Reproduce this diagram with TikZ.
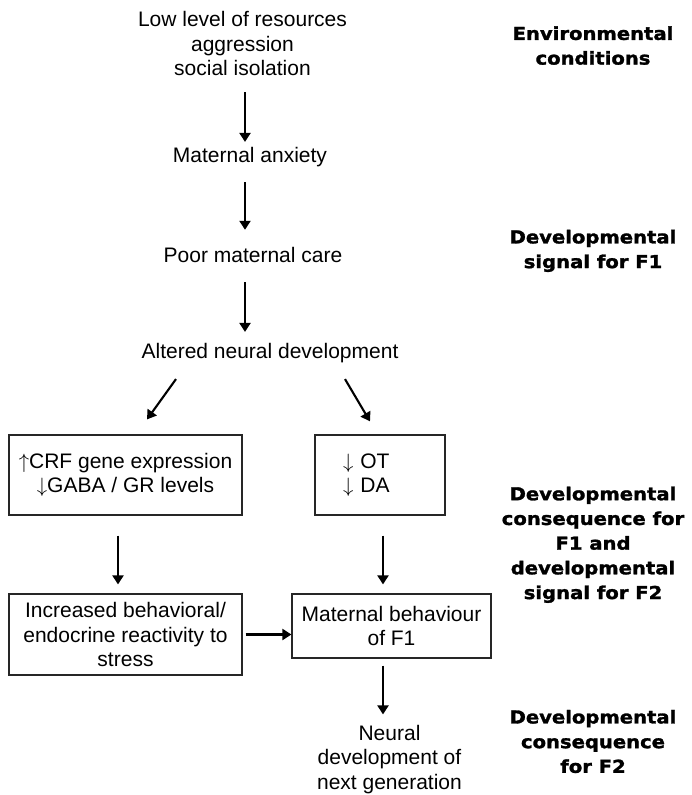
\documentclass[tikz,border=0pt]{standalone}
\usepackage{fontspec}
\setmainfont{Liberation Sans}
\newfontfamily\tagfont{DejaVu Sans Bold}[FakeStretch=1.1, FakeBold=1.6]
\usetikzlibrary{arrows.meta, positioning}
\newcommand{\bodyfont}{\fontsize{21}{24.5}\selectfont}
\newcommand{\tagsize}{\tagfont\fontsize{17.8}{24.7}\selectfont}
\tikzstyle{every node}=[font=\bodyfont, inner sep=0pt]
\tikzstyle{block}=[draw=black!85, line width=1.2pt, rectangle, align=center]
\tikzstyle{tag}=[font=\tagsize, align=center]
\tikzstyle{flow}=[line width=2.1pt, -{Triangle[width=11pt,length=9pt]}]

\begin{document}
\begin{tikzpicture}[x=1pt, y=-1pt]
    \useasboundingbox (0,0) rectangle (691,795);
    % main chain
    \node[align=center] (cond) at (242.5,43.8) {Low level of resources\\aggression\\social isolation};
    \node (anxiety) at (250,157.5) {Maternal anxiety};
    \node (care) at (253,255.3) {Poor maternal care};
    \node (altered) at (270,353.5) {Altered neural development};
    \node[block, minimum width=233pt, minimum height=80pt] (crf) at (125.5,475) {$\uparrow$CRF gene expression\\$\downarrow$GABA / GR levels};
    \node[block, text width=74pt, inner xsep=28pt, align=left, minimum height=80pt] (ot) at (380,475) {$\downarrow$ OT\\$\downarrow$ DA};
    \node[block, minimum width=233pt, minimum height=81pt] (stress) at (125.5,634.5) {Increased behavioral/\\endocrine reactivity to\\stress};
    \node[block, minimum width=199pt, minimum height=64pt] (matb) at (391.5,626) {Maternal behaviour\\of F1};
    \node[align=center] (next) at (389.5,759.5) {Neural\\development of\\next generation};
    % stage labels
    \node[tag] (envtag) at (593,45.6) {Environmental\\conditions};
    \node[tag] (sigtag) at (593,250.9) {Developmental\\signal for F1};
    \node[tag] (constag) at (593,544.8) {Developmental\\consequence for\\F1 and\\developmental\\signal for F2};
    \node[tag] (nexttag) at (593,741.5) {Developmental\\consequence\\for F2};
    % arrows
    \coordinate (axis) at (245,0);
    \coordinate (raxis) at (383,0);
    \coordinate (splitl) at ([xshift=-94pt, yshift=-15.6pt]altered.south);
    \coordinate (splitr) at ([xshift=75pt, yshift=-15.6pt]altered.south);
    \coordinate (endl) at ([xshift=21.5pt, yshift=15pt]crf.north);
    \coordinate (endr) at ([xshift=-10pt, yshift=13pt]ot.north);
    \draw[flow, shorten <=16pt, shorten >=5.6pt] (cond.south -| axis) -- (anxiety.north -| axis);
    \draw[flow, shorten <=14.6pt, shorten >=17.6pt] (anxiety.south -| axis) -- (care.north -| axis);
    \draw[flow, shorten <=19pt, shorten >=11.6pt] (care.south -| axis) -- (altered.north -| axis);
    \draw[flow] (splitl) -- (endl);
    \draw[flow] (splitr) -- (endr);
    \draw[flow, shorten <=20pt, shorten >=9pt] ([xshift=-7.5pt]crf.south) -- ([xshift=-7.5pt]stress.north);
    \draw[flow, shorten <=20pt, shorten >=9pt] (ot.south -| raxis) -- (matb.north -| raxis);
    \draw[flow, shorten <=3pt] (stress.east) -- (stress.east -| matb.west);
    \draw[flow, shorten <=7pt, shorten >=10.6pt] (matb.south -| raxis) -- (next.north -| raxis);
\end{tikzpicture}
\end{document}
